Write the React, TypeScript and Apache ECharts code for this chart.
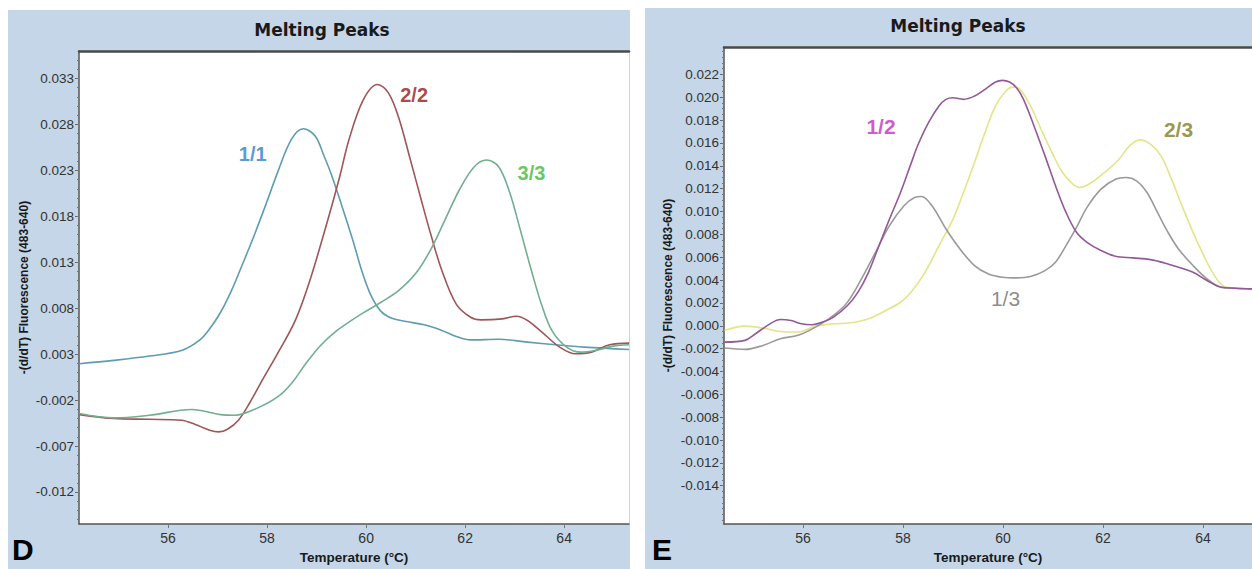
import React, { useEffect, useRef } from "react";
import * as echarts from "echarts";

// ---------- data (Temperature °C, -(d/dT) Fluorescence) ----------
const tempTicks = [56, 58, 60, 62, 64];
const yTicksD = [-0.012, -0.007, -0.002, 0.003, 0.008, 0.013, 0.018, 0.023, 0.028, 0.033];
const yTicksE = [-0.014, -0.012, -0.01, -0.008, -0.006, -0.004, -0.002, 0, 0.002, 0.004, 0.006, 0.008, 0.01, 0.012, 0.014, 0.016, 0.018, 0.02, 0.022];

const peak11: [number, number][] = [
  [54.21, 0.00196], [54.9, 0.00232], [55.62, 0.00279], [56.27, 0.0034], [56.63, 0.00449], [56.84, 0.00576],
  [57.06, 0.00756], [57.28, 0.00992], [57.49, 0.01263], [57.71, 0.01553], [57.99, 0.01951], [58.21, 0.02276],
  [58.49, 0.02638], [58.73, 0.02754], [58.97, 0.02674], [59.15, 0.02457], [59.29, 0.02266], [59.51, 0.01914],
  [59.73, 0.01543], [59.91, 0.01211], [60.09, 0.00948], [60.3, 0.00766], [60.52, 0.00691], [60.81, 0.00655],
  [61.17, 0.00619], [61.53, 0.00558], [61.82, 0.00493], [62.11, 0.00455], [62.68, 0.00462], [63.26, 0.00431],
  [63.83, 0.00402], [64.41, 0.00377], [65.31, 0.00351],
];
const peak22: [number, number][] = [
  [54.21, -0.00358], [54.9, -0.00401], [55.62, -0.00409], [56.27, -0.00419], [56.55, -0.00466], [56.84, -0.00528],
  [57.02, -0.00546], [57.2, -0.00517], [57.42, -0.00419], [57.64, -0.00237], [57.92, 0.00033], [58.21, 0.00306],
  [58.57, 0.00668], [58.86, 0.01096], [59.22, 0.0175], [59.47, 0.0224], [59.65, 0.02629], [59.94, 0.03066],
  [60.23, 0.03235], [60.45, 0.03144], [60.66, 0.02871], [60.88, 0.02443], [61.1, 0.02005], [61.31, 0.01596],
  [61.53, 0.01211], [61.82, 0.00845], [62.11, 0.00702], [62.32, 0.00673], [62.75, 0.00684], [63.04, 0.00713],
  [63.26, 0.00666], [63.55, 0.0054], [63.91, 0.00377], [64.23, 0.00304], [64.55, 0.00322], [64.92, 0.00402],
  [65.31, 0.0042],
];
const peak33: [number, number][] = [
  [54.21, -0.00347], [54.9, -0.00394], [55.62, -0.00365], [56.48, -0.00303], [57.06, -0.00358], [57.35, -0.00365],
  [57.78, -0.00293], [58.21, -0.00166], [58.5, -0.00013], [58.79, 0.00204], [59.08, 0.00395], [59.37, 0.0054],
  [59.65, 0.00648], [59.94, 0.00749], [60.3, 0.00865], [60.66, 0.00994], [61.02, 0.01191], [61.31, 0.01444],
  [61.6, 0.0177], [61.89, 0.02095], [62.18, 0.02338], [62.43, 0.02414], [62.68, 0.02338], [62.9, 0.02059],
  [63.11, 0.01661], [63.33, 0.01227], [63.55, 0.00829], [63.76, 0.0055], [64.05, 0.00377], [64.34, 0.00322],
  [64.63, 0.0034], [64.99, 0.00387], [65.31, 0.00402],
];
const peak12: [number, number][] = [
  [54.43, -0.00143], [54.84, -0.00128], [55.05, -0.0007], [55.34, 0.00017], [55.55, 0.00055], [55.76, 0.00046],
  [55.97, 0.00017], [56.18, 0.00009], [56.39, 0.00032], [56.61, 0.00076], [56.89, 0.00177], [57.1, 0.00294],
  [57.31, 0.00468], [57.52, 0.00701], [57.73, 0.00934], [57.95, 0.01167], [58.16, 0.01419], [58.3, 0.01584],
  [58.51, 0.01778], [58.72, 0.01924], [58.86, 0.01982], [59.0, 0.01996], [59.21, 0.01982], [59.43, 0.02011],
  [59.64, 0.02069], [59.85, 0.02133], [59.99, 0.02148], [60.13, 0.02133], [60.27, 0.02084], [60.41, 0.01982],
  [60.62, 0.01749], [60.84, 0.01487], [61.05, 0.01225], [61.26, 0.00992], [61.47, 0.00818], [61.68, 0.0073],
  [61.96, 0.00658], [62.25, 0.00608], [62.6, 0.00594], [62.95, 0.00579], [63.23, 0.0055], [63.51, 0.00512],
  [63.8, 0.00468], [64.08, 0.00396], [64.36, 0.00337], [64.64, 0.00329], [64.98, 0.00323],
];
const peak13: [number, number][] = [
  [54.43, -0.00195], [54.84, -0.00207], [55.2, -0.00172], [55.55, -0.00113], [55.9, -0.00084], [56.25, -0.00012],
  [56.61, 0.0009], [56.89, 0.00207], [57.17, 0.0041], [57.45, 0.00643], [57.73, 0.00876], [58.02, 0.0105],
  [58.23, 0.01123], [58.37, 0.01132], [58.58, 0.0105], [58.86, 0.00847], [59.14, 0.00672], [59.43, 0.00527],
  [59.71, 0.00454], [59.99, 0.00425], [60.27, 0.00419], [60.55, 0.00431], [60.84, 0.00483], [61.05, 0.00556],
  [61.26, 0.00701], [61.47, 0.00861], [61.68, 0.01036], [61.96, 0.01196], [62.25, 0.01283], [62.46, 0.01298],
  [62.67, 0.01269], [62.88, 0.01167], [63.09, 0.00992], [63.3, 0.00818], [63.51, 0.00672], [63.8, 0.00527],
  [64.08, 0.0041], [64.36, 0.00337], [64.64, 0.00329], [64.98, 0.00323],
];
const peak23: [number, number][] = [
  [54.43, -0.00041], [54.84, -0.00003], [55.2, -0.00021], [55.55, -0.0005], [55.9, -0.00055], [56.25, -0.00003],
  [56.61, 0.00017], [56.96, 0.00026], [57.31, 0.00061], [57.66, 0.00134], [57.95, 0.00206], [58.16, 0.00294],
  [58.44, 0.00468], [58.72, 0.00701], [59.0, 0.00934], [59.21, 0.01167], [59.43, 0.01429], [59.64, 0.01691],
  [59.85, 0.01924], [60.06, 0.02055], [60.2, 0.02089], [60.34, 0.02069], [60.55, 0.01924], [60.76, 0.0172],
  [60.98, 0.01516], [61.19, 0.01341], [61.4, 0.0124], [61.54, 0.0121], [61.75, 0.01248], [62.03, 0.01341],
  [62.32, 0.01458], [62.53, 0.01574], [62.74, 0.01627], [62.95, 0.01589], [63.16, 0.01487], [63.37, 0.01283],
  [63.58, 0.0105], [63.8, 0.00818], [64.01, 0.0062], [64.22, 0.00445], [64.43, 0.00343], [64.71, 0.00329],
  [64.98, 0.00323],
];

// curve labels: [name, T, value]
const labelsD: [string, number, number][] = [
  ["1/1", 57.71, 0.02475],
  ["2/2", 60.97, 0.03116],
  ["3/3", 63.34, 0.02276],
];
const labelsE: [string, number, number][] = [
  ["1/2", 57.56, 0.0174],
  ["1/3", 60.05, 0.00241],
  ["2/3", 63.51, 0.0172],
];

// ---------- layout ----------
const W = 1252;
const H = 569;
const gridD = { left: 79, top: 51, width: 550, height: 474 };
const gridE = { left: 724, top: 47, width: 528, height: 479 };
const xRangeD = [54.2, 65.31];
const xRangeE = [54.42, 64.98];
const yRangeD = [-0.0155, 0.036];
const yRangeE = [-0.01736, 0.0244];

const FONT = "Arial, 'Liberation Sans', sans-serif";
const TITLE_FONT = "'DejaVu Sans', Verdana, sans-serif";

function minorTicks(lo: number, hi: number, step: number): number[] {
  const out: number[] = [];
  const n = Math.round((hi - lo) / step);
  for (let i = 0; i <= n; i++) out.push(+(lo + i * step).toFixed(5));
  return out;
}

export default function App() {
  const ref = useRef<HTMLDivElement>(null);
  useEffect(() => {
    if (!ref.current) return;
    const chart = echarts.init(ref.current, undefined, { renderer: "svg" });

    const xAxisBase = (gi: number, range: number[]) => ({
      type: "value",
      gridIndex: gi,
      position: "bottom",
      min: range[0],
      max: range[1],
      splitLine: { show: false },
      axisLine: { show: true, onZero: false, lineStyle: { color: "#555", width: 1.5 } },
      axisTick: { show: true, customValues: tempTicks, length: 4, lineStyle: { color: "#777" } },
      axisLabel: {
        show: true,
        customValues: tempTicks,
        color: "#333",
        fontSize: 14,
        fontFamily: FONT,
        margin: 7,
      },
      name: "Temperature (°C)",
      nameLocation: "middle",
      nameGap: 25,
      nameTextStyle: { fontWeight: "bold", fontSize: 13.5, color: "#1a1a1a", fontFamily: FONT },
    });
    const topBorder = (gi: number, range: number[]) => ({
      type: "value",
      gridIndex: gi,
      position: "top",
      min: range[0],
      max: range[1],
      splitLine: { show: false },
      axisLine: { show: true, onZero: false, lineStyle: { color: "#4a4a4a", width: 2.5 } },
      axisTick: { show: false },
      axisLabel: { show: false },
    });
    const yAxisMain = (gi: number, range: number[], ticks: number[], gap: number) => ({
      type: "value",
      gridIndex: gi,
      position: "left",
      min: range[0],
      max: range[1],
      splitLine: { show: false },
      axisLine: { show: true, onZero: false, lineStyle: { color: "#555", width: 1.5 } },
      axisTick: { show: true, customValues: ticks, length: 4, lineStyle: { color: "#666" } },
      axisLabel: {
        show: true,
        customValues: ticks,
        formatter: (v: number) => v.toFixed(3),
        color: "#333",
        fontSize: 13.5,
        fontFamily: FONT,
        margin: 5,
      },
      name: "-(d/dT) Fluorescence (483-640)",
      nameLocation: "middle",
      nameGap: gap,
      nameTextStyle: { fontWeight: "bold", fontSize: 12, color: "#1a1a1a", fontFamily: FONT },
    });
    const yAxisMinor = (gi: number, range: number[], ticks: number[]) => ({
      type: "value",
      gridIndex: gi,
      position: "left",
      offset: 0,
      min: range[0],
      max: range[1],
      splitLine: { show: false },
      axisLine: { show: false },
      axisTick: { show: true, customValues: ticks, length: 2, lineStyle: { color: "#777" } },
      axisLabel: { show: false },
    });

    const line = (name: string, data: [number, number][], color: string, xi: number, yi: number) => ({
      type: "line",
      name,
      data,
      xAxisIndex: xi,
      yAxisIndex: yi,
      showSymbol: false,
      smooth: 0.35,
      lineStyle: { color, width: 1.6 },
      silent: true,
    });
    const labelSeries = (lab: [string, number, number], color: string, weight: string, size: number, xi: number, yi: number) => ({
      type: "scatter",
      data: [[lab[1], lab[2]]],
      xAxisIndex: xi,
      yAxisIndex: yi,
      symbolSize: 1,
      itemStyle: { color: "rgba(0,0,0,0)" },
      silent: true,
      label: {
        show: true,
        position: "inside",
        formatter: lab[0],
        color,
        fontSize: size,
        fontWeight: weight,
        fontFamily: FONT,
      },
      z: 5,
    });

    const option = {
      animation: false,
      backgroundColor: "#ffffff",
      graphic: [
        { type: "rect", z: -10, shape: { x: 8, y: 10, width: 622, height: H - 10 }, style: { fill: "#c4d6e7" } },
        { type: "rect", z: -10, shape: { x: 645, y: 8, width: W - 645, height: H - 8 }, style: { fill: "#c4d6e7" } },
        {
          type: "text", z: 10, x: 322, y: 30,
          style: { text: "Melting Peaks", align: "center", verticalAlign: "middle", fontSize: 17, fontWeight: "bold", fontFamily: TITLE_FONT, fill: "#1a1a1a" },
        },
        {
          type: "text", z: 10, x: 958, y: 26,
          style: { text: "Melting Peaks", align: "center", verticalAlign: "middle", fontSize: 17, fontWeight: "bold", fontFamily: TITLE_FONT, fill: "#1a1a1a" },
        },
        {
          type: "text", z: 10, x: 12, y: 549,
          style: { text: "D", align: "left", verticalAlign: "middle", fontSize: 30, fontWeight: "bold", fontFamily: FONT, fill: "#000" },
        },
        {
          type: "text", z: 10, x: 652, y: 549,
          style: { text: "E", align: "left", verticalAlign: "middle", fontSize: 30, fontWeight: "bold", fontFamily: FONT, fill: "#000" },
        },
      ],
      grid: [
        { ...gridD, show: true, backgroundColor: "#ffffff", borderWidth: 0, containLabel: false },
        { ...gridE, show: true, backgroundColor: "#ffffff", borderWidth: 0, containLabel: false },
      ],
      xAxis: [xAxisBase(0, xRangeD), topBorder(0, xRangeD), xAxisBase(1, xRangeE), topBorder(1, xRangeE)],
      yAxis: [
        yAxisMain(0, yRangeD, yTicksD, 49),
        yAxisMinor(0, yRangeD, minorTicks(-0.015, 0.035, 0.001)),
        yAxisMain(1, yRangeE, yTicksE, 50),
        yAxisMinor(1, yRangeE, minorTicks(-0.017, 0.024, 0.0005)),
      ],
      series: [
        line("1/1", peak11, "#5e9cb0", 0, 0),
        line("2/2", peak22, "#9e5658", 0, 0),
        line("3/3", peak33, "#72ae90", 0, 0),
        line("2/3", peak23, "#e4e48a", 2, 2),
        line("1/3", peak13, "#9a9a9c", 2, 2),
        line("1/2", peak12, "#925898", 2, 2),
        labelSeries(labelsD[0], "#2f7fc0", "bold", 20, 0, 0),
        labelSeries(labelsD[1], "#951818", "bold", 20, 0, 0),
        labelSeries(labelsD[2], "#3cba3c", "bold", 20, 0, 0),
        labelSeries(labelsE[0], "#c22fc2", "bold", 21, 2, 2),
        labelSeries(labelsE[1], "#6e6e6e", "normal", 21, 2, 2),
        labelSeries(labelsE[2], "#7d7d1e", "bold", 21, 2, 2),
      ],
    };
    chart.setOption(option as any);
    return () => chart.dispose();
  }, []);
  return (
    <div
      ref={ref}
      style={{ position: "fixed", left: 0, top: 0, width: W, height: H, background: "#fff" }}
    />
  );
}
